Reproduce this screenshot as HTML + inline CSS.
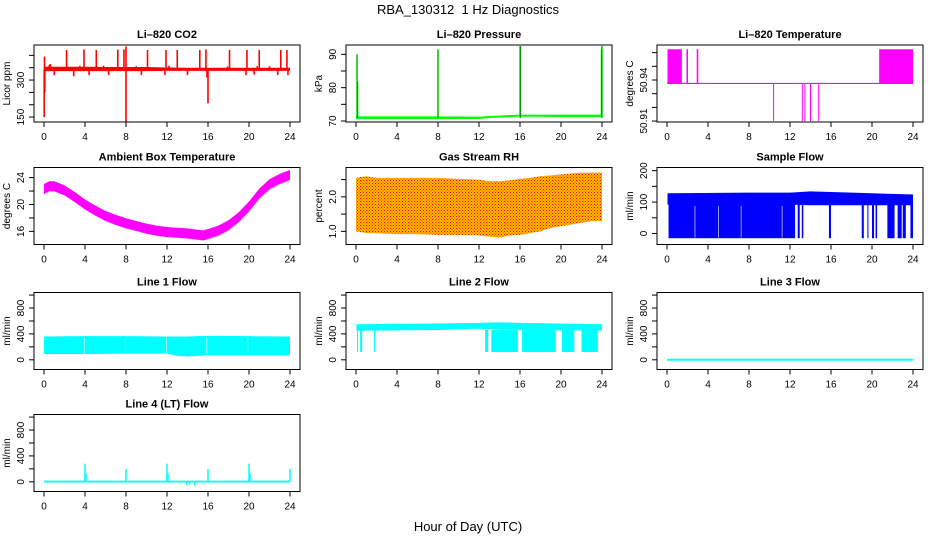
<!DOCTYPE html>
<html><head><meta charset="utf-8">
<style>
html,body{margin:0;padding:0;background:#fff;}
svg{display:block;font-family:"Liberation Sans",sans-serif;}
</style></head>
<body>
<svg id="chart" width="936" height="540" viewBox="0 0 936 540" xmlns="http://www.w3.org/2000/svg">
<defs>
<pattern id="rhpat" width="3" height="3" patternUnits="userSpaceOnUse" shape-rendering="crispEdges">
<rect width="3" height="3" fill="#ffbb00"/>
<rect width="1" height="1" fill="#ff0000"/>
<rect x="1.5" y="1.5" width="1" height="1" fill="#ff2200"/>
</pattern>
</defs>
<text x="468" y="14" text-anchor="middle" font-size="13" style="white-space:pre">RBA_130312  1 Hz Diagnostics</text>
<text x="468" y="531" text-anchor="middle" font-size="13">Hour of Day (UTC)</text>
</svg>
<script>
// ---- data ----
const xTicks=[0,4,8,12,16,20,24];
const co2T=[0,2,4,6,8,10,12,14,16,18,20,22,24];
const co2Low=[336,336,336,336,336,336,337,337,337,337,337,337,337];
const co2High=[354,354,354,353,353,353,351,350,350,350,350,350,350];
const co2SpikeT=[0.05,2.2,3.9,5.1,7.2,7.8,8.0,10.1,11.9,13.0,15.2,15.8,18.1,19.8,21.0,23.1,23.7,0.02,0.08,8.0,16.0,15.9,23.8,0.6,1.0,2.9,4.4,6.3,9.5,11.8,14.0,19.7,20.5,22.8,0.5,3.5,5.8,9.0,12.2,17.9,20.8,22.0];
const co2SpikeV=[395,422,424,422,424,424,436,422,422,422,422,424,422,422,422,422,422,150,250,130,206,310,320,365,320,315,320,320,320,320,320,320,322,320,360,358,358,356,358,355,356,356];
const presT=[0,4,8,12,13,16,20,24];
const presLow=[70.6,70.6,70.6,70.6,70.9,71.3,71.2,71.2];
const presHigh=[71.4,71.4,71.4,71.3,71.5,71.9,71.9,71.9];
const presSpikeT=[0.1,0.15,8.0,16.0,16.05,24.0,23.95];
const presSpikeV=[90,81.7,91.5,92.5,92.5,92.5,91.5];
const tempBase=50.9375, tempHigh=50.9625, tempLowV=50.91;
const tempBlockStart=[0.05,1.9,2.9,20.7];
const tempBlockEnd=[1.45,2.05,3.05,24.0];
const tempDips=[10.4,13.2,13.45,14.0,14.8];
const ambT=[0,0.5,1,2,3,4,5,6,7,8,9,10,11,12,13,14,15,15.5,16,17,18,19,20,21,22,23,24];
const ambMid=[22.3,22.7,22.7,22.1,21.1,20.0,19.1,18.3,17.7,17.2,16.8,16.4,16.1,15.9,15.8,15.7,15.5,15.4,15.6,16.1,16.9,18.1,19.7,21.6,23.0,23.8,24.4];
const ambHalf=0.75;
const rhT=[0,1,2,4,6,8,10,12,13,14,15,16,17,18,19,20,21,22,23,24];
const rhLow=[1.0,0.95,0.95,0.92,0.92,0.9,0.9,0.88,0.85,0.82,0.88,0.9,0.95,1.0,1.1,1.15,1.2,1.25,1.3,1.3];
const rhHigh=[2.55,2.6,2.55,2.55,2.55,2.55,2.52,2.5,2.45,2.45,2.48,2.52,2.55,2.6,2.62,2.65,2.68,2.7,2.7,2.7];
const sfT=[0.05,8,12,14,20,24];
const sfLow=[92,92,92,90,90,90];
const sfHigh=[128,130,130,134,128,124];
const sfDropStart=[0.15,12.75,13.15,15.8,19.0,19.55,20.0,20.35,21.5,22.5,23.0,23.75];
const sfDropEnd=[12.5,12.95,13.3,16.0,19.2,19.65,20.2,20.5,22.2,22.9,23.3,24.0];
const sfDropMin=-15;
const sfGaps=[2.7,5.0,7.2,11.2];
const l1T=[0,4,8,12,13,14,15,16,20,24];
const l1Low=[90,90,95,95,60,50,60,70,70,70];
const l1High=[360,365,365,360,360,360,365,370,365,360];
const l1Gaps=[3.9,7.9,11.9,15.85,19.85];
const l2T=[0.05,8,12,14,16,24];
const l2Low=[450,460,480,470,460,450];
const l2High=[550,560,570,580,570,550];
const l2DropStart=[0.1,0.4,1.75,12.6,13.2,16.2,20.1,22.0];
const l2DropEnd=[0.2,0.6,1.85,12.9,15.8,19.5,21.3,23.6];
const l2DropMin=120;
const l3T=[0,24];
const l3V=[0,0];
const l4T=[0,24];
const l4Low=[-10,-10];
const l4High=[18,18];
const l4SpikeT=[4.0,4.1,8.0,12.0,12.1,16.0,20.0,20.1,24.0,13.9,14.2,14.7];
const l4SpikeV=[280,130,200,280,130,200,280,130,200,-50,-40,-50];

// ---- layout ----
const NS="http://www.w3.org/2000/svg";
const svg=document.getElementById('chart');
const colL=[34,346,657], rowT=[45,167.5,292.5,414.5], W=266, H=77;
function mk(tag,attrs,parent){const e=document.createElementNS(NS,tag);for(const k in attrs)e.setAttribute(k,attrs[k]);(parent||svg).appendChild(e);return e;}

function panel(o){
  const L=colL[o.col], T=rowT[o.row];
  const g=mk('g',{});
  
  
  const sx=t=>L+10+t/24*246;
  const sy=v=>T+H-(v-o.ymin)/(o.ymax-o.ymin)*H;
  const plot=mk('g',{},g);
  
  
  o.draw(plot,sx,sy);
  const box=mk('rect',{x:L,y:T,width:W,height:H,fill:'none',stroke:'#000','stroke-width':1},g);
  
  
  const tt=mk('text',{x:L+W/2,y:T-7,'text-anchor':'middle','font-size':11,'font-weight':'bold'},g);
  tt.textContent=o.title;
  
  
  const xa=mk('g',{},g);
  
  
  mk('line',{x1:sx(0),x2:sx(24),y1:T+H,y2:T+H,stroke:'#000'},xa);
  xTicks.forEach(t=>{
    mk('line',{x1:sx(t),x2:sx(t),y1:T+H,y2:T+H+5,stroke:'#000'},xa);
    const tx=mk('text',{x:sx(t),y:T+H+18,'text-anchor':'middle','font-size':10},xa);
    tx.textContent=t;
  });
  const ya=mk('g',{},g);
  
  
  o.ticks.forEach(v=>{
    mk('line',{x1:L-5,x2:L,y1:sy(v),y2:sy(v),stroke:'#000'},ya);
  });
  o.labels.forEach(v=>{
    const tx=mk('text',{x:0,y:0,'text-anchor':'middle','font-size':10,transform:`translate(${L-10},${sy(v)}) rotate(-90)`},ya);
    tx.textContent=o.fmt?o.fmt(v):v;
  });
  const yl=mk('text',{x:0,y:0,'text-anchor':'middle','font-size':10,transform:`translate(${L-24},${T+H/2}) rotate(-90)`},g);
  yl.textContent=o.ylab;
  
  
}
function band(p,sx,sy,ts,lo,hi,fill){
  let d='M'+ts.map((t,i)=>sx(t)+','+sy(hi[i])).join('L');
  for(let i=ts.length-1;i>=0;i--)d+='L'+sx(ts[i])+','+sy(lo[i]);
  const e=mk('path',{d:d+'Z',fill:fill},p);
  
  
  return e;
}
function vline(p,x,y1,y2,col,w){return mk('line',{x1:x,x2:x,y1:y1,y2:y2,stroke:col,'stroke-width':w||1.5},p);}
function rect(p,x1,x2,y1,y2,fill){return mk('rect',{x:Math.min(x1,x2),y:Math.min(y1,y2),width:Math.max(0.6,Math.abs(x2-x1)),height:Math.abs(y2-y1),fill:fill},p);}

panel({name:'co2',col:0,row:0,title:'Li\u2013820 CO2',ylab:'Licor ppm',ymin:130,ymax:442,ticks:[150,200,250,300,350,400],labels:[150,300],
 draw:(p,sx,sy)=>{
  band(p,sx,sy,co2T,co2Low,co2High,'#ff0000');
  co2SpikeT.forEach((t,i)=>vline(p,sx(t),sy(344),sy(co2SpikeV[i]),'#ff0000',1.6));
 }});
panel({name:'pressure',col:1,row:0,title:'Li\u2013820 Pressure',ylab:'kPa',ymin:69.7,ymax:92.8,ticks:[70,75,80,85,90],labels:[70,80,90],
 draw:(p,sx,sy)=>{
  band(p,sx,sy,presT,presLow,presHigh,'#00ff00');
  presSpikeT.forEach((t,i)=>{vline(p,sx(t),sy(71),sy(presSpikeV[i]),'#00ff00',1.5);
    mk('line',{x1:sx(t),x2:sx(t),y1:sy(71),y2:sy(presSpikeV[i]),stroke:'#000','stroke-width':0.8,'stroke-dasharray':'1,1'},p);});
 }});
panel({name:'li820-temperature',col:2,row:0,title:'Li\u2013820 Temperature',ylab:'degrees C',ymin:50.9093,ymax:50.9656,ticks:[50.91,50.92,50.93,50.94,50.95,50.96],labels:[50.91,50.94],fmt:v=>v.toFixed(2),
 draw:(p,sx,sy)=>{
  mk('line',{x1:sx(0),x2:sx(24),y1:sy(tempBase),y2:sy(tempBase),stroke:'#ff00ff','stroke-width':1.2},p);
  tempBlockStart.forEach((s,i)=>rect(p,sx(s),sx(tempBlockEnd[i]),sy(tempBase),sy(tempHigh),'#ff00ff'));
  tempDips.forEach(t=>vline(p,sx(t),sy(tempBase),sy(tempLowV),'#ff00ff',1));
 }});
panel({name:'ambient-temperature',col:0,row:1,title:'Ambient Box Temperature',ylab:'degrees C',ymin:14.05,ymax:25.5,ticks:[16,18,20,22,24],labels:[16,20,24],
 draw:(p,sx,sy)=>{
  band(p,sx,sy,ambT,ambMid.map(v=>v-ambHalf),ambMid.map(v=>v+ambHalf),'#ff00ff');
 }});
panel({name:'gas-rh',col:1,row:1,title:'Gas Stream RH',ylab:'percent',ymin:0.62,ymax:2.85,ticks:[1.0,1.5,2.0,2.5],labels:[1.0,2.0],fmt:v=>v.toFixed(1),
 draw:(p,sx,sy)=>{
  band(p,sx,sy,rhT,rhLow,rhHigh,'url(#rhpat)');
 }});
panel({name:'sample-flow',col:2,row:1,title:'Sample Flow',ylab:'ml/min',ymin:-35,ymax:210,ticks:[0,50,100,150,200],labels:[0,100,200],
 draw:(p,sx,sy)=>{
  band(p,sx,sy,sfT,sfLow,sfHigh,'#0000ff');
  sfDropStart.forEach((s,i)=>rect(p,sx(s),sx(sfDropEnd[i]),sy(sfDropMin),sy(95),'#0000ff'));
  sfGaps.forEach(t=>rect(p,sx(t),sx(t)+0.6,sy(sfDropMin+2),sy(88),'#ffffff'));
 }});
panel({name:'line1-flow',col:0,row:2,title:'Line 1 Flow',ylab:'ml/min',ymin:-150,ymax:1040,ticks:[0,200,400,600,800,1000],labels:[0,400,800],
 draw:(p,sx,sy)=>{
  band(p,sx,sy,l1T,l1Low,l1High,'#00ffff');
  l1Gaps.forEach(t=>rect(p,sx(t),sx(t)+0.7,sy(100),sy(340),'#ffffff'));
 }});
panel({name:'line2-flow',col:1,row:2,title:'Line 2 Flow',ylab:'ml/min',ymin:-150,ymax:1040,ticks:[0,200,400,600,800,1000],labels:[0,400,800],
 draw:(p,sx,sy)=>{
  band(p,sx,sy,l2T,l2Low,l2High,'#00ffff');
  l2DropStart.forEach((s,i)=>rect(p,sx(s),sx(l2DropEnd[i]),sy(l2DropMin),sy(460),'#00ffff'));
 }});
panel({name:'line3-flow',col:2,row:2,title:'Line 3 Flow',ylab:'ml/min',ymin:-150,ymax:1040,ticks:[0,200,400,600,800,1000],labels:[0,400,800],
 draw:(p,sx,sy)=>{
  mk('polyline',{points:l3T.map((t,i)=>sx(t)+','+sy(l3V[i])).join(' '),fill:'none',stroke:'#00ffff','stroke-width':2},p);
 }});
panel({name:'line4-flow',col:0,row:3,title:'Line 4 (LT) Flow',ylab:'ml/min',ymin:-150,ymax:1040,ticks:[0,200,400,600,800,1000],labels:[0,400,800],
 draw:(p,sx,sy)=>{
  band(p,sx,sy,l4T,l4Low,l4High,'#00ffff');
  l4SpikeT.forEach((t,i)=>vline(p,sx(t),sy(0),sy(l4SpikeV[i]),'#00ffff',1.5));
 }});
</script>
</body></html>
